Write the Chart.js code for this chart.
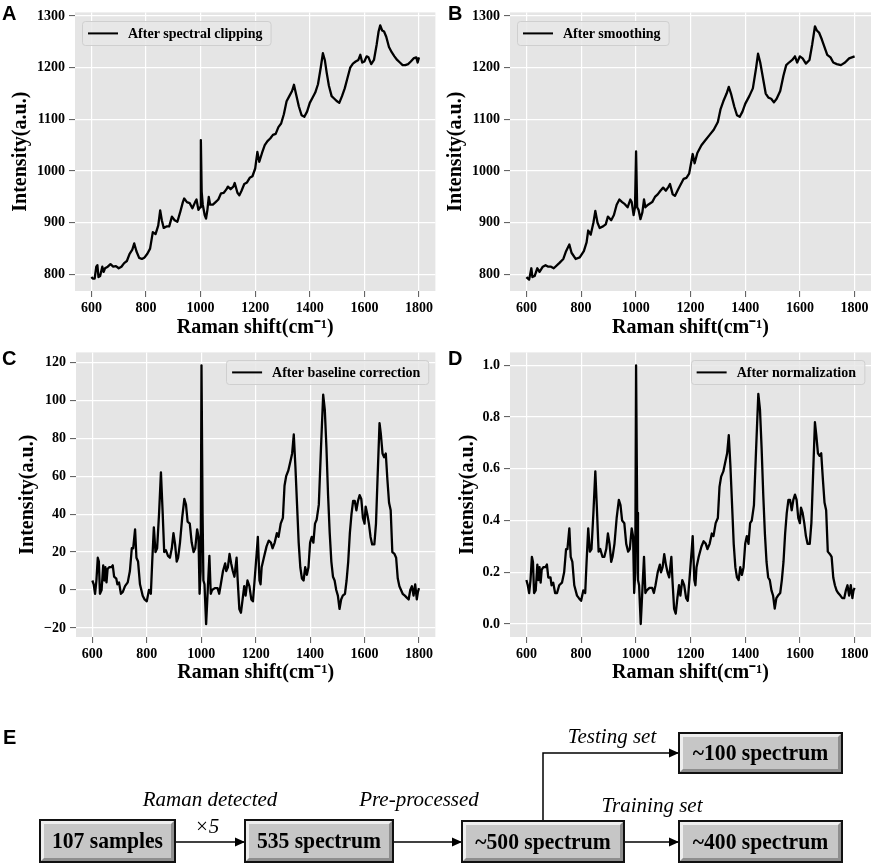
<!DOCTYPE html>
<html>
<head>
<meta charset="utf-8">
<title>Raman spectra pre-processing</title>
<script src="https://cdn.jsdelivr.net/npm/chart.js@4.4.0/dist/chart.umd.min.js"></script>
<style>
  body { margin: 0; background: #fff; }
  #fig { position: relative; width: 872px; height: 864px; overflow: hidden; }
  #fig canvas { position: absolute; }
  .tag { position: absolute; font: bold 20px "Liberation Sans", Arial, sans-serif; line-height: 20px; color: #000; }
</style>
</head>
<body>
<div id="fig">
  <canvas id="chartA" width="436" height="340" style="left:0;top:0"></canvas>
  <canvas id="chartB" width="436" height="340" style="left:436px;top:0"></canvas>
  <canvas id="chartC" width="436" height="350" style="left:0;top:340px"></canvas>
  <canvas id="chartD" width="436" height="350" style="left:436px;top:340px"></canvas>
  <canvas id="flow" width="872" height="174" style="left:0;top:690px"></canvas>
  <div class="tag" style="left:2px;top:3px">A</div>
  <div class="tag" style="left:448px;top:3px">B</div>
  <div class="tag" style="left:2px;top:348px">C</div>
  <div class="tag" style="left:448px;top:348px">D</div>
  <div class="tag" style="left:3px;top:727px">E</div>
</div>
<script>
// x ticks shared by all four panels
var X_TICKS = [600, 800, 1000, 1200, 1400, 1600, 1800];
var X_LABELS = ["600", "800", "1000", "1200", "1400", "1600", "1800"];

var Y_TICKS_AB = [800, 900, 1000, 1100, 1200, 1300];
var Y_LABELS_AB = ["800", "900", "1000", "1100", "1200", "1300"];
var Y_TICKS_C = [-20, 0, 20, 40, 60, 80, 100, 120];
var Y_LABELS_C = ["\u221220", "0", "20", "40", "60", "80", "100", "120"];
var Y_TICKS_D = [0, 0.2, 0.4, 0.6, 0.8, 1.0];
var Y_LABELS_D = ["0.0", "0.2", "0.4", "0.6", "0.8", "1.0"];

// A: after spectral clipping
var shiftA = [
  600,605,612,618,622,626,632,640,645,650,
  660,670,680,690,700,710,720,730,740,750,
  757,765,775,785,795,805,815,825,835,845,
  852,858,865,875,885,895,905,915,925,935,
  940,950,960,970,980,985,992,998,1001,1004,
  1008,1015,1020,1025,1030,1035,1045,1055,1065,1075,
  1085,1095,1100,1110,1120,1125,1135,1142,1150,1160,
  1170,1180,1190,1200,1208,1215,1225,1235,1245,1255,
  1265,1275,1285,1295,1305,1315,1325,1335,1342,1350,
  1360,1370,1380,1390,1400,1410,1420,1430,1440,1448,
  1455,1462,1470,1480,1490,1500,1508,1518,1528,1538,
  1548,1558,1568,1578,1585,1592,1600,1608,1615,1625,
  1635,1645,1652,1658,1665,1672,1680,1690,1700,1710,
  1720,1730,1740,1750,1760,1770,1780,1790,1795,1800
];
var intensityA = [
  795,792,792,815,818,795,797,815,805,812,
  815,820,815,816,812,815,822,826,840,848,
  860,845,832,830,833,840,850,882,878,895,
  924,905,890,893,893,912,905,902,920,940,
  947,940,938,928,940,945,925,930,1060,960,
  935,915,908,925,950,935,935,940,945,957,
  958,965,970,965,970,977,958,953,962,975,
  978,987,990,1005,1037,1018,1035,1050,1058,1063,
  1070,1072,1085,1092,1110,1135,1145,1155,1167,1148,
  1125,1108,1105,1115,1132,1142,1152,1168,1200,1228,
  1215,1190,1165,1145,1140,1135,1132,1145,1160,1180,
  1200,1208,1212,1215,1225,1210,1212,1222,1220,1207,
  1215,1245,1270,1282,1272,1270,1260,1240,1230,1222,
  1215,1210,1205,1205,1207,1212,1218,1220,1210,1220
];

// B: after smoothing
var shiftB = [
  600,610,618,622,630,640,648,660,670,680,
  690,700,720,735,745,757,765,780,795,810,
  820,826,835,845,852,860,868,880,890,898,
  910,920,930,940,950,960,970,980,985,992,
  997,1001,1005,1010,1017,1024,1030,1035,1045,1060,
  1070,1080,1090,1100,1110,1120,1125,1135,1143,1155,
  1165,1175,1185,1195,1202,1208,1215,1225,1240,1255,
  1270,1285,1300,1310,1320,1332,1340,1348,1360,1370,
  1380,1390,1400,1415,1428,1440,1447,1455,1465,1475,
  1485,1495,1505,1515,1528,1540,1550,1560,1572,1582,
  1590,1600,1610,1622,1635,1645,1655,1662,1670,1680,
  1690,1700,1712,1722,1735,1750,1765,1780,1790,1800
];
var intensityB = [
  795,790,812,795,797,812,805,815,818,815,
  815,812,822,830,845,858,842,830,833,845,
  862,885,877,900,923,900,890,893,897,912,
  905,915,935,945,940,936,930,945,940,915,
  930,1038,930,925,907,920,945,930,935,940,
  950,955,962,968,962,970,975,955,952,965,
  975,985,987,995,1015,1033,1015,1035,1050,1060,
  1070,1080,1095,1120,1135,1150,1163,1150,1125,1108,
  1105,1115,1130,1145,1160,1200,1227,1210,1180,1150,
  1142,1140,1133,1140,1155,1185,1205,1210,1215,1222,
  1210,1222,1218,1208,1215,1245,1280,1272,1268,1255,
  1240,1225,1220,1210,1207,1205,1210,1218,1220,1222
];

// C and D share the same sampling
var shiftCD = [
  600,605,610,615,620,624,628,634,640,644,
  648,652,656,662,670,675,680,688,692,698,
  705,712,720,730,738,745,750,757,762,768,
  775,785,792,800,808,815,820,826,832,838,
  845,852,858,864,870,878,885,892,898,904,
  910,915,922,930,938,944,950,958,965,972,
  978,985,990,994,998,1001,1005,1008,1012,1018,
  1024,1030,1035,1040,1050,1060,1066,1072,1080,1088,
  1092,1098,1104,1110,1116,1122,1130,1134,1140,1146,
  1152,1158,1163,1170,1177,1184,1190,1196,1204,1208,
  1214,1218,1222,1230,1240,1248,1256,1262,1270,1278,
  1284,1292,1300,1306,1312,1320,1328,1334,1340,1346,
  1352,1358,1364,1370,1376,1382,1388,1394,1400,1406,
  1412,1418,1424,1432,1440,1448,1454,1460,1466,1472,
  1478,1484,1490,1496,1502,1508,1514,1520,1528,1534,
  1540,1546,1552,1558,1564,1570,1576,1582,1588,1594,
  1600,1604,1610,1616,1622,1628,1636,1642,1648,1655,
  1660,1666,1672,1678,1684,1690,1696,1702,1710,1716,
  1722,1728,1734,1740,1748,1755,1762,1768,1774,1780,
  1786,1792,1796,1800
];
// C: after baseline correction
var intensityC = [
  5,3,-2,5,17,15,-2,0,13,5,
  12,4,11,12,12,13,7,6,3,4,
  -2,-1,2,4,10,22,22,32,17,15,
  3,-3,-5,-6,0,-2,15,33,20,22,
  40,62,42,20,21,18,17,22,30,24,
  15,17,25,38,48,45,36,35,25,20,
  22,32,28,-2,10,118.5,40,5,3,-18,
  0,18,-2,0,1,1,-2,3,10,14,
  10,12,19,14,10,7,17,5,-10,-12,
  -5,2,-3,5,2,-5,-6,5,20,28,
  5,3,12,17,23,26,25,22,25,30,
  28,35,38,55,60,63,68,72,82,65,
  45,25,12,6,5,12,8,12,25,28,
  25,35,37,45,75,103,95,75,50,30,
  15,7,5,0,-3,-10,-5,-3,-2,5,
  15,30,40,47,47,42,47,50,48,38,
  35,44,40,35,28,24,24,35,60,88,
  82,72,70,72,58,46,42,20,19,17,
  6,2,0,-2,-3,-4,-5,0,2,-3,
  3,-5,-1,1
];
// D: after normalization
var intensityD = [
  0.17,0.15,0.12,0.17,0.26,0.24,0.12,0.13,0.23,0.17,
  0.22,0.16,0.21,0.22,0.22,0.23,0.18,0.18,0.15,0.16,
  0.12,0.12,0.15,0.16,0.20,0.29,0.29,0.37,0.26,0.24,
  0.15,0.11,0.10,0.09,0.13,0.12,0.24,0.37,0.28,0.29,
  0.43,0.59,0.44,0.28,0.29,0.26,0.26,0.29,0.35,0.31,
  0.24,0.26,0.31,0.41,0.48,0.46,0.40,0.39,0.31,0.28,
  0.29,0.37,0.34,0.12,0.20,1.00,0.43,0.17,0.15,0.00,
  0.13,0.26,0.12,0.13,0.14,0.14,0.12,0.15,0.20,0.23,
  0.20,0.22,0.27,0.23,0.20,0.18,0.26,0.17,0.06,0.04,
  0.10,0.15,0.11,0.17,0.15,0.10,0.09,0.17,0.28,0.34,
  0.17,0.15,0.22,0.26,0.30,0.32,0.31,0.29,0.31,0.35,
  0.34,0.39,0.41,0.53,0.57,0.59,0.63,0.66,0.73,0.61,
  0.46,0.31,0.22,0.18,0.17,0.22,0.19,0.22,0.31,0.34,
  0.31,0.39,0.40,0.46,0.68,0.89,0.83,0.68,0.50,0.35,
  0.24,0.18,0.17,0.13,0.11,0.06,0.10,0.11,0.12,0.17,
  0.24,0.35,0.43,0.48,0.48,0.44,0.48,0.50,0.48,0.41,
  0.39,0.45,0.43,0.39,0.34,0.31,0.31,0.39,0.57,0.78,
  0.73,0.66,0.65,0.66,0.56,0.47,0.44,0.28,0.27,0.26,
  0.18,0.15,0.13,0.12,0.11,0.10,0.10,0.13,0.15,0.11,
  0.15,0.10,0.13,0.14
];

var serif = '"Liberation Serif", "Times New Roman", serif';

// grey ggplot-like panel behind the grid
var plotBg = {
  id: "plotBg",
  beforeDraw(chart) {
    var a = chart.chartArea, ctx = chart.ctx;
    ctx.save();
    ctx.fillStyle = "#e5e5e5";
    ctx.fillRect(a.left, a.top, a.right - a.left, a.bottom - a.top);
    ctx.restore();
  }
};

// legend drawn inside the plot, matplotlib style
var boxLegend = {
  id: "boxLegend",
  afterDraw(chart, args, opts) {
    var a = chart.chartArea, ctx = chart.ctx;
    var ds = chart.data.datasets[0];
    ctx.save();
    ctx.font = "bold 14px " + serif;
    var w = ctx.measureText(ds.label).width + 54, h = 24;
    var x = opts.side === "right" ? a.right - opts.dx - w : a.left + opts.dx;
    var y = a.top + opts.dy;
    ctx.fillStyle = "rgba(232,232,232,0.85)";
    ctx.strokeStyle = "#cfcfcf";
    ctx.lineWidth = 1;
    ctx.beginPath();
    ctx.roundRect(Math.round(x) + 0.5, Math.round(y) + 0.5, w, h, 3);
    ctx.fill();
    ctx.stroke();
    ctx.strokeStyle = ds.borderColor;
    ctx.lineWidth = 2;
    ctx.beginPath();
    ctx.moveTo(x + 6, y + h / 2);
    ctx.lineTo(x + 36, y + h / 2);
    ctx.stroke();
    ctx.fillStyle = "#000";
    ctx.textBaseline = "middle";
    ctx.fillText(ds.label, x + 46, y + h / 2 + 1);
    ctx.restore();
  }
};

function makeChart(id, xs, ys, label, p) {
  return new Chart(document.getElementById(id), {
    type: "line",
    data: {
      datasets: [{
        label: label,
        data: xs.map((x, i) => ({ x: x, y: ys[i] })),
        borderColor: "#000",
        borderWidth: 2.3,
        borderJoinStyle: "round",
        pointRadius: 0,
        tension: 0,
        fill: false
      }]
    },
    options: {
      responsive: false,
      animation: false,
      layout: { padding: { top: p.top, right: p.right, left: 0, bottom: 0 } },
      plugins: {
        legend: { display: false },
        tooltip: { enabled: false },
        boxLegend: { side: p.legendSide, dx: 7, dy: p.legendDy }
      },
      scales: {
        x: {
          type: "linear",
          min: 540,
          max: 1860,
          afterBuildTicks: (s) => { s.ticks = X_TICKS.map(v => ({ value: v })); },
          afterFit: (s) => { s.height = p.xAxisH; },
          grid: { color: "#fff", lineWidth: 1.2, tickColor: "#555", tickLength: 6, tickWidth: 1 },
          border: { display: false },
          ticks: {
            color: "#000", padding: 3, autoSkip: false, maxRotation: 0, minRotation: 0,
            font: { family: serif, size: 14, weight: "bold" },
            callback: (v, i) => X_LABELS[i]
          },
          title: {
            display: true, text: "Raman shift(cm\u207B\u00B9)", color: "#000",
            font: { family: serif, size: 20, weight: "bold" },
            padding: { top: 0, bottom: p.xTitlePad }
          }
        },
        y: {
          min: p.yMin,
          max: p.yMax,
          afterBuildTicks: (s) => { s.ticks = p.yTicks.map(v => ({ value: v })); },
          afterFit: (s) => { s.width = p.yAxisW; },
          grid: { color: "#fff", lineWidth: 1.2, tickColor: "#555", tickLength: 6, tickWidth: 1 },
          border: { display: false },
          ticks: {
            color: "#000", padding: 4, autoSkip: false,
            font: { family: serif, size: 14, weight: "bold" },
            callback: (v, i) => p.yLabels[i]
          },
          title: {
            display: true, text: "Intensity(a.u.)", color: "#000",
            font: { family: serif, size: 20, weight: "bold" },
            padding: { top: p.yTitlePad, bottom: 0 }
          }
        }
      }
    },
    plugins: [plotBg, boxLegend]
  });
}

makeChart("chartA", shiftA, intensityA, "After spectral clipping", {
  top: 3, right: 0, xAxisH: 49, xTitlePad: 0, yAxisW: 75, yTitlePad: 9,
  yMin: 768, yMax: 1307, yTicks: Y_TICKS_AB, yLabels: Y_LABELS_AB, legendSide: "left", legendDy: 9
});
makeChart("chartB", shiftB, intensityB, "After smoothing", {
  top: 3, right: 1, xAxisH: 49, xTitlePad: 0, yAxisW: 74, yTitlePad: 8,
  yMin: 768, yMax: 1307, yTicks: Y_TICKS_AB, yLabels: Y_LABELS_AB, legendSide: "left", legendDy: 9
});
makeChart("chartC", shiftCD, intensityC, "After baseline correction", {
  top: 10, right: 0, xAxisH: 53, xTitlePad: 5, yAxisW: 76, yTitlePad: 16,
  yMin: -24.8, yMax: 125.3, yTicks: Y_TICKS_C, yLabels: Y_LABELS_C, legendSide: "right", legendDy: 8
});
makeChart("chartD", shiftCD, intensityD, "After normalization", {
  top: 10, right: 1, xAxisH: 53, xTitlePad: 5, yAxisW: 74, yTitlePad: 20,
  yMin: -0.05, yMax: 1.05, yTicks: Y_TICKS_D, yLabels: Y_LABELS_D, legendSide: "right", legendDy: 8
});

// E: workflow diagram (plain canvas, coordinates relative to the flow canvas)
var fctx = document.getElementById("flow").getContext("2d");

function drawBox(ctx, x, y, w, h, text) {
  var b = 4;
  ctx.fillStyle = "#8e8e8e";
  ctx.fillRect(x, y, w, h);
  ctx.fillStyle = "#eeeeee";
  ctx.beginPath();
  ctx.moveTo(x, y); ctx.lineTo(x + w, y); ctx.lineTo(x + w - b, y + b);
  ctx.lineTo(x + b, y + b); ctx.lineTo(x + b, y + h - b); ctx.lineTo(x, y + h);
  ctx.closePath();
  ctx.fill();
  ctx.fillStyle = "#c6c6c6";
  ctx.fillRect(x + b, y + b, w - 2 * b, h - 2 * b);
  ctx.strokeStyle = "#111";
  ctx.lineWidth = 2;
  ctx.strokeRect(x, y, w, h);
  // slightly condensed bold serif, like the original figure
  ctx.save();
  ctx.translate(x + w / 2, y + h / 2 + 1);
  ctx.scale(0.9, 1);
  ctx.fillStyle = "#000";
  ctx.font = "bold 24px " + serif;
  ctx.textAlign = "center";
  ctx.textBaseline = "middle";
  ctx.fillText(text, 0, 0);
  ctx.restore();
}

function drawArrow(ctx, pts) {
  ctx.strokeStyle = "#000";
  ctx.fillStyle = "#000";
  ctx.lineWidth = 1.5;
  ctx.beginPath();
  ctx.moveTo(pts[0][0], pts[0][1]);
  for (var i = 1; i < pts.length; i++) ctx.lineTo(pts[i][0], pts[i][1]);
  ctx.stroke();
  var p1 = pts[pts.length - 2], p2 = pts[pts.length - 1];
  var ang = Math.atan2(p2[1] - p1[1], p2[0] - p1[0]);
  ctx.save();
  ctx.translate(p2[0], p2[1]);
  ctx.rotate(ang);
  ctx.beginPath();
  ctx.moveTo(0, 0); ctx.lineTo(-10, -4.5); ctx.lineTo(-10, 4.5);
  ctx.closePath();
  ctx.fill();
  ctx.restore();
}

function drawLabel(ctx, text, x, y) {
  ctx.fillStyle = "#000";
  ctx.font = "italic 21px " + serif;
  ctx.textAlign = "center";
  ctx.textBaseline = "middle";
  ctx.fillText(text, x, y);
}

drawArrow(fctx, [[175, 152], [245, 152]]);
drawArrow(fctx, [[393, 152], [462, 152]]);
drawArrow(fctx, [[624, 152], [679, 152]]);
drawArrow(fctx, [[543, 131], [543, 63], [679, 63]]);

drawBox(fctx, 40, 130, 135, 42, "107 samples");
drawBox(fctx, 245, 130, 148, 42, "535 spectrum");
drawBox(fctx, 462, 131, 162, 41, "~500 spectrum");
drawBox(fctx, 679, 43, 163, 40, "~100 spectrum");
drawBox(fctx, 679, 131, 163, 41, "~400 spectrum");

drawLabel(fctx, "Raman detected", 210, 110);
drawLabel(fctx, "\u00D75", 207, 137);
drawLabel(fctx, "Pre-processed", 419, 110);
drawLabel(fctx, "Testing set", 612, 47);
drawLabel(fctx, "Training set", 652, 116);
</script>
</body>
</html>
